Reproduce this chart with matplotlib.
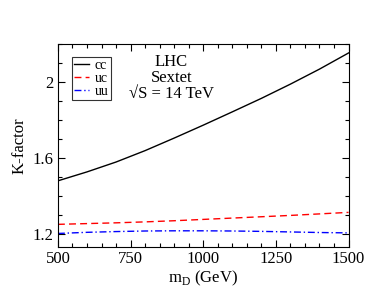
import matplotlib
matplotlib.use('Agg')
import matplotlib.pyplot as plt
from matplotlib.ticker import MultipleLocator

plt.rcParams['font.family'] = ['Liberation Serif', 'DejaVu Serif']
plt.rcParams['mathtext.fontset'] = 'custom'
plt.rcParams['mathtext.rm'] = 'Liberation Serif'

m_d = [500, 600, 700, 800, 900, 1000, 1100, 1200, 1300, 1400, 1500]
k_cc = [1.482, 1.529, 1.581, 1.641, 1.707, 1.775, 1.845, 1.916, 1.991, 2.070, 2.155]
k_uc = [1.253, 1.257, 1.261, 1.266, 1.272, 1.279, 1.286, 1.293, 1.300, 1.308, 1.316]
k_uu = [1.205, 1.211, 1.215, 1.218, 1.219, 1.219, 1.218, 1.216, 1.213, 1.210, 1.208]

fig = plt.figure(figsize=(3.76, 2.91), dpi=100)
ax = fig.add_axes([0.154, 0.152, 0.773, 0.698])

ax.plot(m_d, k_cc, color='black', lw=1.0, label='cc')
ax.plot(m_d, k_uc, color='red', lw=1.0, dashes=(5, 3), label='uc')
ax.plot(m_d, k_uu, color='blue', lw=1.0, dashes=(5, 2, 1, 2), label='uu')

ax.set_xlim(500, 1500)
ax.set_ylim(1.135, 2.204)
ax.xaxis.set_major_locator(MultipleLocator(250))
ax.xaxis.set_minor_locator(MultipleLocator(50))
ax.yaxis.set_minor_locator(MultipleLocator(0.1))
ax.set_yticks([1.2, 1.6, 2.0])
ax.set_yticklabels(['1.2', '1.6', '2'])
ax.tick_params(which='both', direction='in', top=True, right=True, labelsize=12, width=0.8)
ax.tick_params(which='major', length=5, pad=3)
ax.tick_params(which='minor', length=3)

ax.set_xlabel(r'm$_\mathregular{D}$ (GeV)', fontsize=12, labelpad=1)
ax.set_ylabel('K-factor', fontsize=12, labelpad=4)

# three centred lines kept in one text (baseline = last line)
ax.text(890, 1.916, 'LHC\nSextet\n\u221aS = 14 TeV', ha='center', va='baseline',
        multialignment='center', linespacing=1.0, fontsize=12)

leg = ax.legend(loc='upper left', bbox_to_anchor=(0.048, 0.935), fontsize=10, frameon=True,
                fancybox=False, edgecolor='black', handlelength=1.1, handletextpad=0.4,
                labelspacing=0.0, borderpad=0.15, borderaxespad=0)
leg.get_frame().set_linewidth(0.8)

fig.savefig('out.png', dpi=100)
